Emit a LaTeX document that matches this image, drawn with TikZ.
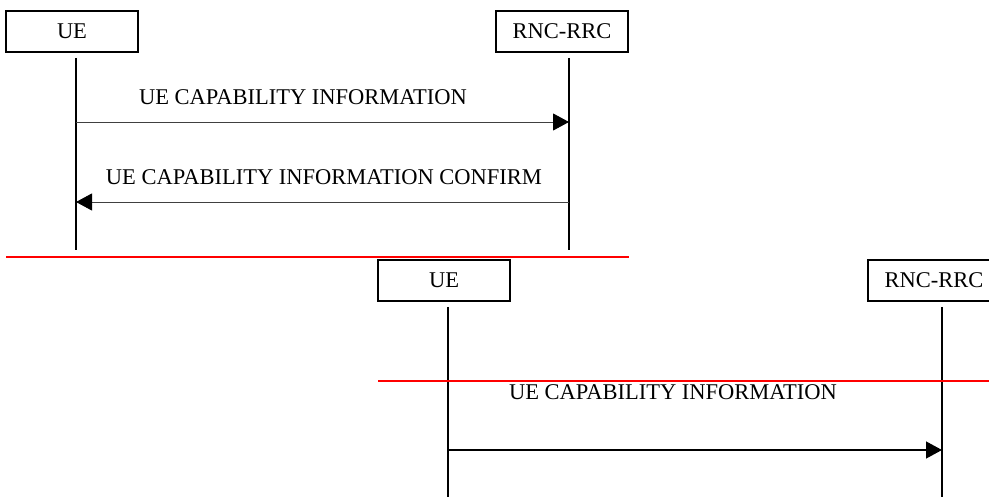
\documentclass[tikz,border=0pt]{standalone}
\usepackage{fontspec}
\setmainfont{Liberation Serif}
\usetikzlibrary{arrows.meta}

\begin{document}
\begin{tikzpicture}[x=1pt,y=-1pt,
	entity/.style={draw,line width=1.1pt,minimum width=132pt,minimum height=41pt,inner sep=0pt,font=\fontsize{22.5}{25}\selectfont},
	lifeline/.style={line width=1.2pt},
	msg/.style={-{Triangle[length=16pt,width=17pt,black]},line width=0.9pt},
	msgtext/.style={font=\fontsize{22.5}{25}\selectfont},
	divider/.style={red,line width=2pt}]
			\useasboundingbox (0,0) rectangle (989,497);
			\clip (0,0) rectangle (989,497);

			% first exchange
			\node[entity] (ue1) at (72,31.5) {UE};
			\node[entity] (rnc1) at (562,31.5) {RNC-RRC};
			\coordinate (ue1top) at (76,58);
			\coordinate (ue1bot) at (76,250);
			\coordinate (rnc1top) at (569,58);
			\coordinate (rnc1bot) at (569,250);
			\draw[lifeline] (ue1top) -- (ue1bot);
			\draw[lifeline] (rnc1top) -- (rnc1bot);
			\coordinate (m1a) at (76,122);
			\coordinate (m1b) at (569,122);
			\draw[msg,draw=black!75] (m1a) -- (m1b);
			\node[msgtext] (t1) at (303,97) {UE CAPABILITY INFORMATION};
			\coordinate (m2a) at (569,202);
			\coordinate (m2b) at (76,202);
			\draw[msg,draw=black!75] (m2a) -- (m2b);
			\node[msgtext] (t2) at (324,177) {UE CAPABILITY INFORMATION CONFIRM};

			% second exchange
			\node[entity] (ue2) at (444,280.5) {UE};
			\node[entity] (rnc2) at (934,280.5) {RNC-RRC};
			\coordinate (ue2top) at (448,307);
			\coordinate (ue2bot) at (448,497);
			\coordinate (rnc2top) at (942,307);
			\coordinate (rnc2bot) at (942,497);
			\draw[lifeline] (ue2top) -- (ue2bot);
			\draw[lifeline] (rnc2top) -- (rnc2bot);
			\coordinate (m3a) at (448,450);
			\coordinate (m3b) at (942,450);
			\draw[msg,line width=1.3pt] (m3a) -- (m3b);
			\node[msgtext] (t3) at (673,392) {UE CAPABILITY INFORMATION};

			% red separators
			\coordinate (sep1a) at (6,257);
			\coordinate (sep1b) at (629,257);
			\coordinate (sep2a) at (378,381);
			\coordinate (sep2b) at (989,381);
			\draw[divider] (sep1a) -- (sep1b);
			\draw[divider] (sep2a) -- (sep2b);
\end{tikzpicture}
\end{document}
